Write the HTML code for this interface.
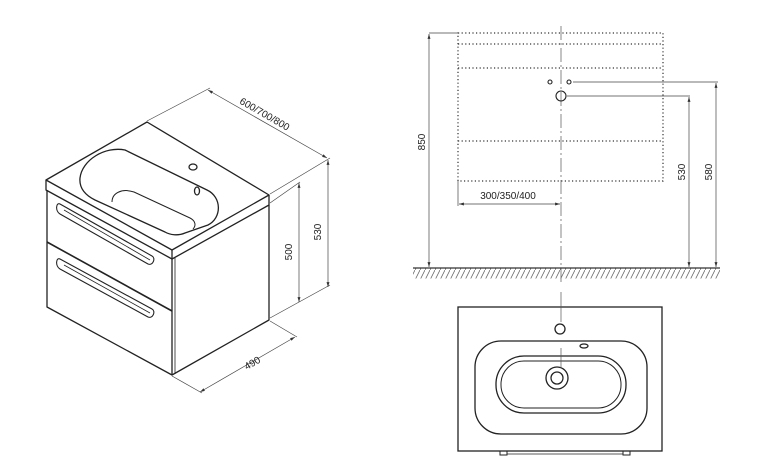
<!DOCTYPE html>
<html><head><meta charset="utf-8"><style>
html,body{margin:0;padding:0;background:#fff;}
svg{display:block;}
text{font-family:"Liberation Sans",Arial,sans-serif;font-size:10px;fill:#222;}
</style></head><body>
<svg width="766" height="476" viewBox="0 0 766 476" xmlns="http://www.w3.org/2000/svg">
<defs>
<marker id="a" viewBox="0 0 10 10" refX="10" refY="5" markerWidth="7" markerHeight="7" orient="auto-start-reverse"><path d="M0,2 L10,5 L0,8 z" fill="#333"/></marker>
<pattern id="h" width="5" height="10" patternUnits="userSpaceOnUse"><line x1="5" y1="0" x2="0" y2="10" stroke="#666" stroke-width="0.8"/></pattern>
</defs>
<g fill="none" stroke="#222" stroke-width="1.3" stroke-linejoin="round">
<!-- top slab -->
<path d="M46,180 L147,122 L269,195 L172,250 Z" fill="#fff"/>
<path d="M46,180 L46,190 L172,259 L269,205 L269,195"/>
<line x1="172" y1="250" x2="172" y2="259"/>
<!-- body -->
<path d="M47,190 L47,307 L172,375 L269,320 L269,205"/>
<line x1="172" y1="259" x2="172" y2="375"/>
<line x1="175" y1="258" x2="175" y2="374" stroke-width="0.8"/>
<path d="M47,242 L172,311" stroke-width="1.6"/>
<!-- basin -->
<path d="M80,178 C82,160 105,146 125,150 L207,190 C222,197 222,218 208,225 L185,233 C178,236 170,235 165,232 L95,200 C85,195 79,188 80,178 Z"/>
<path d="M112,202 C112,193 122,188 134,192 L190,218 C196,221 196,226 193,229" stroke-width="1"/>
<ellipse cx="193" cy="167" rx="4" ry="3"/>
<ellipse cx="197" cy="191" rx="2.5" ry="4"/>
<!-- handles -->
<path d="M60,204 L152,256 C156,258 153,266 148,264 L60,214 C55,211 56,202 60,204 Z" stroke-width="1.1"/>
<line x1="64" y1="210" x2="150" y2="260" stroke-width="0.8"/>
<path d="M60,259 L152,309 C156,311 153,319 148,317 L60,269 C55,266 56,257 60,259 Z" stroke-width="1.1"/>
<line x1="64" y1="265" x2="150" y2="313" stroke-width="0.8"/>
</g>
<!-- iso dimensions -->
<g stroke="#444" stroke-width="0.7" fill="none">
<line x1="147" y1="121" x2="210" y2="88"/>
<line x1="270" y1="194" x2="330" y2="158"/>
<line x1="208" y1="90" x2="327" y2="158" marker-start="url(#a)" marker-end="url(#a)"/>
<line x1="270" y1="203" x2="300" y2="182"/>
<line x1="270" y1="318" x2="330" y2="285"/>
<line x1="328" y1="160" x2="328" y2="287" marker-start="url(#a)" marker-end="url(#a)"/>
<line x1="299" y1="183" x2="299" y2="302" marker-start="url(#a)" marker-end="url(#a)"/>
<line x1="172" y1="376" x2="202" y2="393"/>
<line x1="270" y1="321" x2="297" y2="337"/>
<line x1="295" y1="337" x2="200" y2="392" marker-start="url(#a)" marker-end="url(#a)"/>
</g>
<text transform="translate(263,117) rotate(30)" text-anchor="middle">600/700/800</text>
<text transform="translate(321,232) rotate(-90)" text-anchor="middle">530</text>
<text transform="translate(292,252) rotate(-90)" text-anchor="middle">500</text>
<text transform="translate(254,366) rotate(-30)" text-anchor="middle">490</text>
<!-- front elevation -->
<g stroke="#333" stroke-width="1.2" stroke-dasharray="1.2 2.4" fill="none">
<rect x="458" y="33" width="205" height="148"/>
<line x1="458" y1="44" x2="663" y2="44"/>
<line x1="458" y1="68" x2="663" y2="68"/>
<line x1="458" y1="141" x2="663" y2="141"/>
</g>
<line x1="561" y1="26" x2="561" y2="282" stroke="#555" stroke-width="0.7" stroke-dasharray="14 3 2 3"/>
<g fill="none" stroke="#222" stroke-width="1.1">
<circle cx="550" cy="82" r="2"/><circle cx="569" cy="82" r="2"/><circle cx="561" cy="96" r="5"/>
</g>
<g stroke="#444" stroke-width="0.7" fill="none">
<line x1="429" y1="33" x2="458" y2="33"/>
<line x1="429" y1="34" x2="429" y2="267" marker-start="url(#a)" marker-end="url(#a)"/>
<line x1="573" y1="82" x2="718" y2="82"/>
<line x1="716" y1="83" x2="716" y2="267" marker-start="url(#a)" marker-end="url(#a)"/>
<line x1="567" y1="96" x2="690" y2="96"/>
<line x1="689" y1="97" x2="689" y2="267" marker-start="url(#a)" marker-end="url(#a)"/>
<line x1="458" y1="181" x2="458" y2="206"/>
<line x1="459" y1="204" x2="560" y2="204" marker-start="url(#a)" marker-end="url(#a)"/>
</g>
<rect x="413" y="268.5" width="307" height="10" fill="url(#h)"/>
<line x1="413" y1="268" x2="720" y2="268" stroke="#333" stroke-width="1.3"/>
<text transform="translate(425,142) rotate(-90)" text-anchor="middle">850</text>
<text transform="translate(685,172) rotate(-90)" text-anchor="middle">530</text>
<text transform="translate(712,172) rotate(-90)" text-anchor="middle">580</text>
<text x="508" y="199" text-anchor="middle">300/350/400</text>
<!-- top view -->
<g fill="none" stroke="#222" stroke-width="1.3">
<rect x="458" y="307" width="204" height="144" fill="#fff"/>
<rect x="475" y="341" width="172" height="93" rx="26"/>
<rect x="496" y="356" width="130" height="57" rx="28"/>
<rect x="501" y="361" width="120" height="47" rx="23" stroke-width="1"/>
<circle cx="557" cy="378" r="11"/><circle cx="557" cy="378" r="6"/>
<circle cx="560" cy="329" r="5"/>
<ellipse cx="584" cy="346" rx="4" ry="2"/>
<path d="M500,451 V455 H507 V451 M623,451 V455 H630 V451" stroke-width="1"/>
<line x1="507" y1="454" x2="623" y2="454" stroke-width="0.8"/>
</g>
<line x1="561" y1="292" x2="561" y2="322" stroke="#555" stroke-width="0.7"/>
<line x1="561" y1="348" x2="561" y2="368" stroke="#555" stroke-width="0.7"/>
</svg>
</body></html>
